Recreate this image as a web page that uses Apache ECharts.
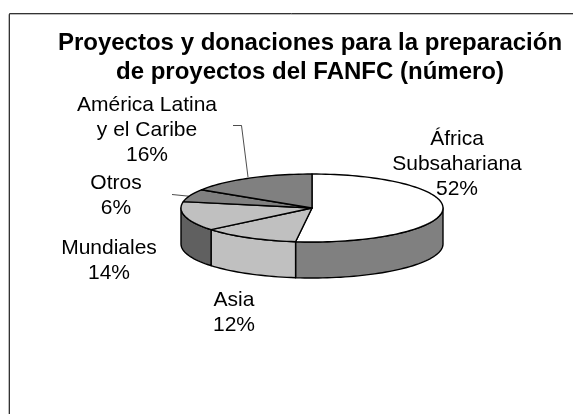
<!DOCTYPE html>
<html><head><meta charset="utf-8">
<style>html,body{margin:0;padding:0;background:#fff}#c{width:573px;height:414px}</style>
<script src="https://cdn.jsdelivr.net/npm/echarts@6/dist/echarts.min.js"></script>
</head><body><div id="c"></div>
<script>
const categories = ['África\nSubsahariana', 'Asia', 'Mundiales', 'Otros', 'América Latina\ny el Caribe'];
const values = [52, 12, 14, 6, 16];
const topColors = ['#ffffff', '#c0c0c0', '#c0c0c0', '#808080', '#808080'];
const sideColors = ['#808080', '#c0c0c0', '#606060', '#606060', '#606060'];
const labelPos = [[457, 164], [234, 313], [109, 261], [116, 196], [147, 130]];
const titleText = 'Proyectos y donaciones para la preparación\nde proyectos del FANFC (número)';

const cx = 312, cy = 208, rx = 131, ry = 34, depth = 36;
const total = values.reduce((a, b) => a + b, 0);
const pt = (deg, dy) => {
  const r = deg * Math.PI / 180;
  return [cx + rx * Math.sin(r), cy - ry * Math.cos(r) + (dy || 0)];
};
const arc = (a, b, dy) => {
  const n = Math.max(2, Math.ceil(Math.abs(b - a) / 2));
  const out = [];
  for (let i = 0; i <= n; i++) out.push(pt(a + (b - a) * i / n, dy));
  return out;
};
const stroke = { stroke: '#000', lineWidth: 1.4, lineJoin: 'round' };
let cum = 0;
const rows = values.map((v, i) => {
  const s = cum / total * 360; cum += v;
  return [s, cum / total * 360, i];
});

const chart = echarts.init(document.getElementById('c'), null, { renderer: 'canvas' });
chart.setOption({
  backgroundColor: '#fff',
  animation: false,
  title: {
    text: titleText, left: 305, top: 24, textAlign: 'center',
    textStyle: { fontFamily: 'Liberation Sans', fontWeight: 'bold', fontSize: 24, lineHeight: 29, color: '#000', align: 'center' }
  },
  graphic: [
    { type: 'polyline', silent: true, shape: { points: [[8.5, 414], [8.5, 14.5], [573, 14.5]] }, style: { stroke: '#bbb', lineWidth: 1, fill: null } },
    { type: 'polyline', silent: true, shape: { points: [[9.5, 414], [9.5, 13.5], [573, 13.5]] }, style: { stroke: '#333', lineWidth: 1, fill: null } },
    { type: 'polyline', silent: true, shape: { points: [[233, 125.5], [241.5, 125.5], [248, 177]] }, style: { stroke: '#000', lineWidth: 0.7, fill: null } },
    { type: 'polyline', silent: true, shape: { points: [[172, 194.5], [192, 196.5]] }, style: { stroke: '#000', lineWidth: 0.7, fill: null } }
  ],
  series: [
    {
      type: 'custom', coordinateSystem: 'none', silent: true, clip: false, z: 2,
      data: rows,
      renderItem: (p, api) => {
        const a = api.value(0), b = api.value(1), i = api.value(2);
        const children = [];
        const sa = Math.max(a, 90), sb = Math.min(b, 270);
        if (sb > sa) {
          children.push({
            type: 'polygon', shape: { points: arc(sa, sb, 0).concat(arc(sb, sa, depth)) },
            style: Object.assign({ fill: sideColors[i] }, stroke), z2: 1
          });
        }
        return { type: 'group', children };
      }
    },
    {
      type: 'custom', coordinateSystem: 'none', silent: true, clip: false, z: 3,
      data: rows,
      renderItem: (p, api) => {
        const a = api.value(0), b = api.value(1), i = api.value(2);
        return {
          type: 'polygon', shape: { points: [[cx, cy]].concat(arc(a, b, 0)) },
          style: Object.assign({ fill: topColors[i] }, stroke)
        };
      }
    },
    {
      type: 'custom', coordinateSystem: 'none', silent: true, clip: false, z: 4,
      data: rows,
      renderItem: (p, api) => {
        const i = api.value(2);
        const txt = categories[i] + '\n' + values[i] + '%';
        return {
          type: 'text', x: labelPos[i][0], y: labelPos[i][1],
          style: { text: txt, fontFamily: 'Liberation Sans', fontSize: 21, lineHeight: 25, fill: '#000', align: 'center', verticalAlign: 'middle' }
        };
      }
    }
  ]
});
</script></body></html>
